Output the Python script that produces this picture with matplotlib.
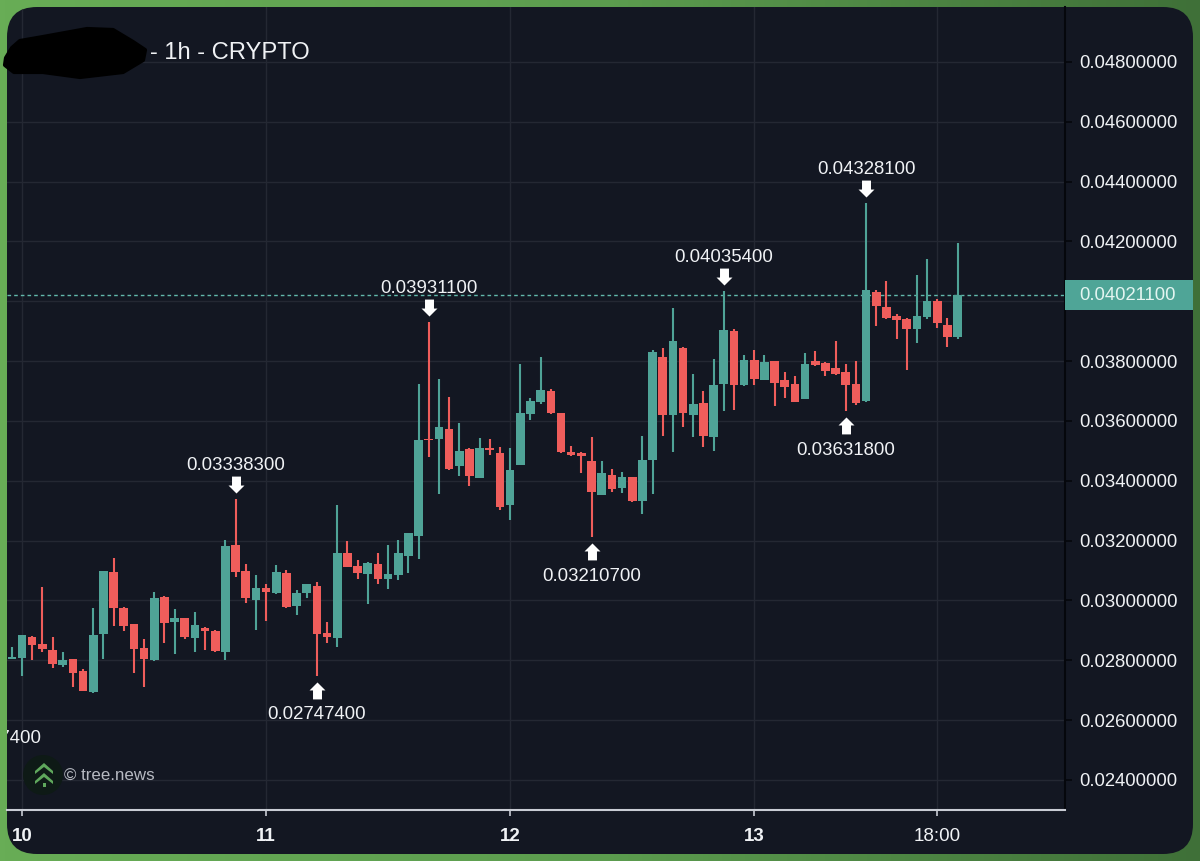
import numpy as np
import matplotlib
matplotlib.use("Agg")
import matplotlib.pyplot as plt
from matplotlib.colors import LinearSegmentedColormap
from matplotlib.patches import Circle, FancyBboxPatch, Polygon, Rectangle
from matplotlib.path import Path
from matplotlib.transforms import blended_transform_factory

plt.rcParams['font.family'] = ['Liberation Sans', 'DejaVu Sans']

# hourly candles, first one is the hour before the "10" tick
opens = [.02804, .02807, .02879, .02855, .02833, .02784, .02803, .02764, .02695, .02887,
         .03095, .02975, .02920, .02840, .02801, .03011, .02928, .02942, .02875, .02909,
         .02899, .02829, .03186, .03100, .03002, .03042, .03024, .03092, .02983, .03025,
         .03050, .02890, .02876, .03158, .03114, .03090, .03123, .03072, .03084, .03150,
         .03217, .03540, .03541, .03573, .03450, .03506, .03411, .03511, .03494, .03319,
         .03453, .03623, .03662, .03701, .03627, .03496, .03493, .03465, .03353, .03421,
         .03376, .03412, .03334, .03470, .03815, .03620, .03843, .03620, .03659, .03547,
         .03725, .03902, .03719, .03803, .03738, .03799, .03737, .03724, .03674, .03799,
         .03794, .03777, .03764, .03724, .03667, .04031, .03981, .03951, .03941, .03909,
         .03949, .04001, .03922, .03880]
highs = [.02843, .02886, .02881, .03046, .02877, .02829, .02804, .02771, .02975, .03098,
         .03143, .02978, .02923, .02871, .03030, .03015, .02973, .02942, .02962, .02913,
         .02900, .03202, .03338, .03121, .03086, .03055, .03118, .03101, .03035, .03055,
         .03063, .02927, .03318, .03200, .03135, .03128, .03158, .03186, .03202, .03226,
         .03724, .03931, .03740, .03681, .03593, .03511, .03543, .03540, .03513, .03509,
         .03792, .03678, .03814, .03706, .03628, .03517, .03498, .03545, .03465, .03439,
         .03429, .03413, .03551, .03837, .03845, .03977, .03848, .03757, .03699, .03808,
         .04035, .03906, .03821, .03837, .03820, .03801, .03763, .03749, .03828, .03833,
         .03798, .03867, .03789, .03799, .04328, .04038, .04069, .03958, .03943, .04087,
         .04140, .04009, .03944, .04194]
lows = [.02803, .02748, .02801, .02827, .02776, .02779, .02710, .02696, .02692, .02806,
        .02916, .02899, .02757, .02712, .02799, .02859, .02822, .02871, .02829, .02835,
        .02827, .02801, .03079, .02993, .02901, .02931, .03022, .02976, .02953, .03007,
        .02747, .02859, .02846, .03111, .03071, .02988, .03056, .03039, .03070, .03093,
        .03139, .03480, .03356, .03435, .03415, .03384, .03409, .03486, .03301, .03269,
        .03452, .03603, .03657, .03623, .03492, .03484, .03426, .03211, .03351, .03364,
        .03359, .03329, .03288, .03356, .03551, .03498, .03580, .03548, .03514, .03501,
        .03635, .03637, .03718, .03720, .03737, .03651, .03678, .03662, .03672, .03785,
        .03750, .03753, .03632, .03653, .03665, .03916, .03941, .03875, .03769, .03862,
        .03942, .03912, .03846, .03875]
closes = [.02810, .02886, .02852, .02837, .02788, .02802, .02759, .02699, .02885, .03098,
          .02974, .02915, .02838, .02803, .03009, .02926, .02942, .02877, .02917, .02897,
          .02830, .03182, .03096, .03007, .03041, .03030, .03094, .02979, .03024, .03055,
          .02889, .02878, .03160, .03113, .03092, .03124, .03072, .03090, .03158, .03226,
          .03538, .03537, .03580, .03438, .03500, .03416, .03509, .03504, .03313, .03437,
          .03627, .03667, .03704, .03626, .03495, .03486, .03484, .03362, .03426, .03372,
          .03412, .03332, .03469, .03832, .03620, .03869, .03626, .03656, .03551, .03720,
          .03905, .03721, .03803, .03740, .03797, .03728, .03714, .03665, .03792, .03786,
          .03767, .03758, .03719, .03660, .04038, .03986, .03943, .03938, .03906, .03950,
          .04001, .03928, .03881, .04021]

# hour offset of each peak / trough marker and its label
high_marks = [(21, .033383, '0.03338300'), (40, .039311, '0.03931100'),
              (69, .040354, '0.04035400'), (83, .043281, '0.04328100')]
low_marks = [(-3, .026674, '0.02667400'), (29, .027474, '0.02747400'),
             (56, .032107, '0.03210700'), (81, .036318, '0.03631800')]

price_ticks = [.024, .026, .028, .030, .032, .034, .036, .038, .040, .042, .044, .046, .048]
time_ticks = [0, 24, 48, 72, 90]
time_labels = ['10', '11', '12', '13', '18:00']
last_price = .040211

BG = '#131722'
GRID = '#242833'
TEAL = '#4fa397'
RED = '#ef5d5b'
TEXT = '#f0f2f5'
AXIS = '#c9ccd4'
W, H = 1200, 861

fig = plt.figure(figsize=(12, 8.61), dpi=100)

# green frame behind the rounded card
frame = fig.add_axes([0, 0, 1, 1], zorder=0)
frame.set_xlim(0, W)
frame.set_ylim(H, 0)
frame.axis('off')
cmap = LinearSegmentedColormap.from_list('frame', ['#68ad56', '#5c9d4f', '#3f7038'])
frame.imshow(np.linspace(0, 1, 256).reshape(1, -1), cmap=cmap, aspect='auto',
             extent=(0, W, H, 0))
card = FancyBboxPatch((37, 37), 1126, 787, boxstyle='round,pad=30,rounding_size=30',
                      fc=BG, ec='none')
frame.add_patch(card)

# main chart area, x in hours from the "10" tick
ax = fig.add_axes([7 / W, (H - 810) / H, 1058 / W, 803 / H], zorder=1)
ax.patch.set_alpha(0)
ax.set_xlim(-1.475, 102.56)
ax.set_ylim(.022997, .049838)

hours = np.arange(len(opens)) - 1
o, hi, lo, c = map(np.array, (opens, highs, lows, closes))
colors = np.where(c >= o, TEAL, RED)
ax.vlines(hours, lo, hi, colors=colors, lw=1.5, zorder=3)
ax.bar(hours, np.abs(c - o), bottom=np.minimum(o, c), width=0.85, color=colors, zorder=4)

ax.set_xticks(time_ticks)
ax.set_xticklabels(time_labels)
for lab in ax.get_xticklabels()[:-1]:
    lab.set_fontweight('bold')
ax.set_yticks(price_ticks)
# the 0.04 label sits under the last price tag
ax.set_yticklabels(['' if p == .040 else f'{p:.8f}' for p in price_ticks])
ax.yaxis.tick_right()
ax.tick_params(axis='x', colors=TEXT, labelsize=13.5, length=4, width=1.2, color=AXIS, pad=9)
ax.tick_params(axis='y', colors=TEXT, labelsize=13.3, length=5, width=1.2, color='#05070c', pad=5.5)
ax.grid(True, color=GRID, lw=1.0, zorder=1)
for line in ax.get_xgridlines() + ax.get_ygridlines():
    line.set_clip_path(card)

for side in ('top', 'left'):
    ax.spines[side].set_visible(False)
ax.spines['bottom'].set_color(AXIS)
ax.spines['bottom'].set_linewidth(1.5)
ax.spines['right'].set_color('#05070c')
ax.spines['right'].set_linewidth(1.5)

ax.axhline(last_price, color='#62b8ab', lw=1.0, dashes=(2.6, 2.2), zorder=2)

# block arrows, tip a little off the wick
down_arrow = Path([(-4.5, 23), (4.5, 23), (4.5, 14), (8, 14), (0, 6), (-8, 14), (-4.5, 14), (-4.5, 23)], closed=True)
up_arrow = Path([(-4.5, -23), (4.5, -23), (4.5, -14), (8, -14), (0, -6), (-8, -14), (-4.5, -14), (-4.5, -23)], closed=True)
for x, price, label in high_marks:
    ax.plot([x], [price], marker=down_arrow, ms=33, color='white', mew=0, zorder=6)
    ax.annotate(label, (x, price), xytext=(0, 24), textcoords='offset points',
                ha='center', va='center', color=TEXT, fontsize=13.4, zorder=7)
for x, price, label in low_marks:
    ax.plot([x], [price], marker=up_arrow, ms=33, color='white', mew=0, zorder=6)
    ax.annotate(label, (x, price), xytext=(0, -28), textcoords='offset points',
                ha='center', va='center', color=TEXT, fontsize=13.4, zorder=7,
                annotation_clip=False, clip_on=True)

# overlay in image pixels: title, redaction, logo, last price tag
top = fig.add_axes([0, 0, 1, 1], zorder=2)
top.set_xlim(0, W)
top.set_ylim(H, 0)
top.axis('off')

top.text(150, 53, '- 1h - CRYPTO', color=TEXT, fontsize=17.1, va='center', ha='left')
blob = [(6, 58), (12, 48), (20, 41), (43, 37), (87, 29), (113, 30), (133, 42), (145, 50),
        (143, 60), (123, 72), (80, 77), (43, 72), (14, 72), (5, 65)]
top.add_patch(Polygon(blob, fc='black', ec='black', lw=3, joinstyle='round'))

top.add_patch(Circle((43, 775), 20, fc='#0e1a16', ec='none'))
top.add_patch(Polygon([(35, 771), (44, 763), (53, 771), (53, 774), (44, 767), (35, 774)], fc='#5fa85c', ec='none'))
top.add_patch(Polygon([(35, 781), (44, 773), (53, 781), (53, 784), (44, 777), (35, 784)], fc='#5fa85c', ec='none'))
top.add_patch(Rectangle((42.5, 783), 3, 3.5, fc='#5fa85c', ec='none'))
top.text(64, 776, '© tree.news', color='#b7bac2', fontsize=12.2, va='center', ha='left')

top.add_patch(Rectangle((1065, 280), 128, 30, fc='#4fa597', ec='none'))
tag_tf = blended_transform_factory(top.transData, ax.transData)
top.text(1079.5, last_price, f'{last_price:.8f}', transform=tag_tf, color='#e4f5f1',
         fontsize=13.3, va='center', ha='left')

fig.savefig('out.png', dpi=100)
